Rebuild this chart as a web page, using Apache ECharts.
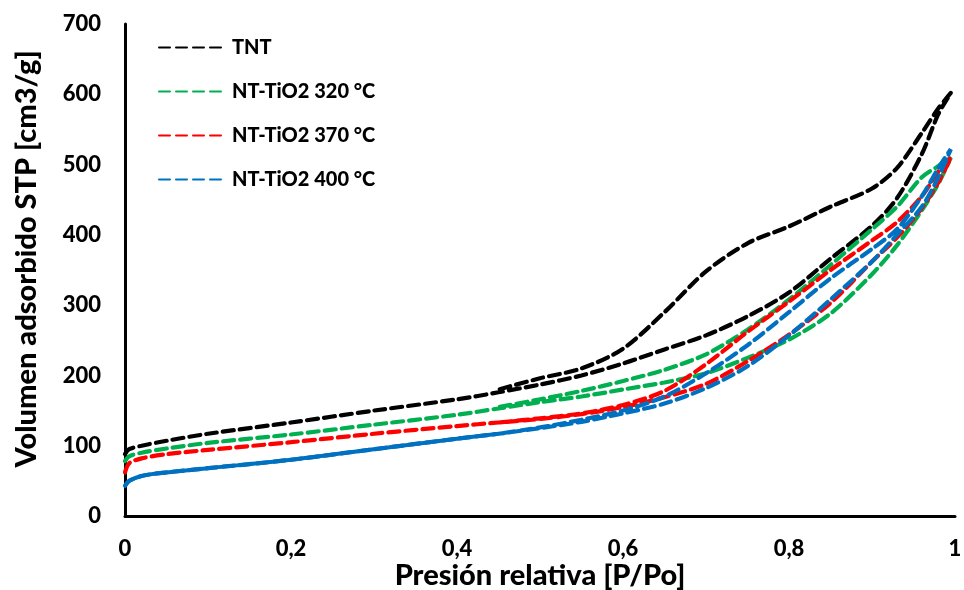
<!DOCTYPE html>
<html>
<head>
<meta charset="utf-8">
<script src="https://cdn.jsdelivr.net/npm/echarts@6/dist/echarts.min.js"></script>
<style>html,body{margin:0;padding:0;background:#fff}#c{width:964px;height:590px}</style>
</head>
<body>
<div id="c"></div>
<script>
// Relative pressure grids
const adsP = [0, 0.005, 0.02, 0.05, 0.1, 0.2, 0.3, 0.4, 0.45, 0.5, 0.55, 0.6, 0.65, 0.7, 0.75, 0.8, 0.85, 0.9, 0.93, 0.96, 0.98, 0.995];
const desP = [0.995, 0.98, 0.96, 0.93, 0.9, 0.85, 0.8, 0.75, 0.7, 0.65, 0.6, 0.55, 0.5, 0.45];

// Adsorption branches
const tntAds  = [88, 95, 100, 107, 117, 133, 150, 166, 176, 187, 200, 217, 237, 257, 284, 318, 366, 413, 452, 515, 572, 602];
const t320Ads = [78, 85, 90, 96, 104, 116, 130, 144, 153, 162, 170, 180, 190, 203, 225, 251, 288, 344, 385, 435, 473, 510];
const t370Ads = [62, 75, 82, 88, 94, 105, 117, 128, 133, 138, 145, 155, 169, 188, 220, 258, 303, 362, 396, 438, 475, 510];
const t400Ads = [43, 50, 57, 62, 68, 80, 95, 110, 117, 125, 134, 146, 160, 182, 213, 257, 308, 362, 400, 440, 482, 522];

// Desorption branches
const tntDes  = [602, 580, 545, 495, 466, 440, 412, 388, 348, 290, 238, 210, 196, 180];
const t320Des = [510, 498, 482, 440, 408, 357, 308, 265, 230, 208, 192, 178, 166, 155];
const t370Des = [512, 490, 455, 418, 392, 350, 305, 262, 216, 178, 158, 146, 139, 133];
const t400Des = [522, 495, 455, 408, 380, 338, 290, 243, 203, 170, 150, 137, 126, 117];

const names = ['TNT', 'NT-TiO2 320 °C', 'NT-TiO2 370 °C', 'NT-TiO2 400 °C'];
const colors = ['#000000', '#00b050', '#ff0000', '#0070c0'];
const xTicks = ['0', '0,2', '0,4', '0,6', '0,8', '1'];

function loop(ads, des) {
  const pts = adsP.map((p, i) => [p, ads[i]]);
  des.forEach((v, i) => { if (i > 0) pts.push([desP[i], v]); });
  return pts;
}
const loops = [loop(tntAds, tntDes), loop(t320Ads, t320Des), loop(t370Ads, t370Des), loop(t400Ads, t400Des)];

const FONT = 'Lato';
const W = '900';
const series = loops.map((d, i) => ({
  name: names[i], type: 'line', data: d, smooth: 0.3, symbol: 'none',
  color: colors[i],
  lineStyle: { color: colors[i], width: 4.2, type: [11, 6], cap: 'round' }
}));
// low-pressure part of the 400 °C sample appears continuous
series.push({
  name: 'low400', type: 'line', smooth: 0.3, symbol: 'none', silent: true,
  data: adsP.filter(p => p <= 0.45).map((p, i) => [p, t400Ads[i]]),
  lineStyle: { color: colors[3], width: 4, type: 'solid' }
});

const chart = echarts.init(document.getElementById('c'), null, { renderer: 'canvas' });
chart.setOption({
  animation: false,
  backgroundColor: '#fff',
  grid: { left: 125, right: 9, top: 24, bottom: 74, containLabel: false, outerBoundsMode: 'none' },
  legend: {
    data: names, orient: 'vertical', left: 153, top: 32, itemGap: 23,
    itemWidth: 66, itemHeight: 14,
    itemStyle: { opacity: 0 },
    textStyle: { fontFamily: FONT, fontWeight: W, fontSize: 20, lineHeight: 21, color: '#000', padding: [0, 0, 0, 2] }
  },
  xAxis: {
    type: 'value', min: 0, max: 1, interval: 0.2,
    name: 'Presión relativa [P/Po]', nameLocation: 'middle', nameGap: 45, nameMoveOverlap: false,
    nameTextStyle: { fontFamily: FONT, fontWeight: W, fontSize: 29, color: '#000' },
    axisLine: { show: true, onZero: false, lineStyle: { color: '#000', width: 3 } },
    axisTick: { show: false }, splitLine: { show: false },
    axisLabel: { margin: 22, fontFamily: FONT, fontWeight: W, fontSize: 22, color: '#000',
      formatter: v => xTicks[Math.round(v / 0.2)] }
  },
  yAxis: {
    type: 'value', min: 0, max: 700, interval: 100,
    name: 'Volumen adsorbido STP [cm3/g]', nameLocation: 'middle', nameGap: 84,
    nameTextStyle: { fontFamily: FONT, fontWeight: W, fontSize: 29, color: '#000', padding: [0, 0, 0, 22] },
    axisLine: { show: true, lineStyle: { color: '#000', width: 3 } },
    axisTick: { show: false }, splitLine: { show: false },
    axisLabel: { margin: 24, fontFamily: FONT, fontWeight: W, fontSize: 22, color: '#000' }
  },
  series: series
});
</script>
</body>
</html>
